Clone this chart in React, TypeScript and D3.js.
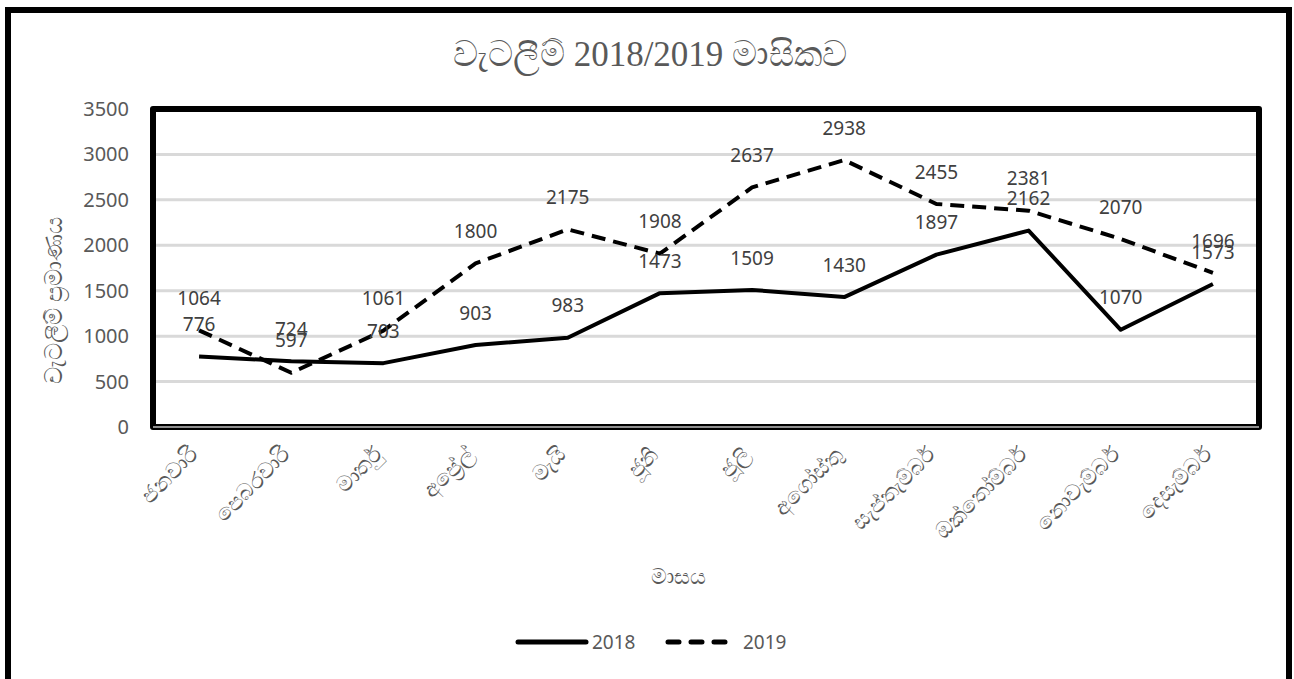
import React from "react";
import * as d3 from "d3";

const months = ["ජනවාරි", "පෙබරවාරි", "මාර්තු", "අප්‍රේල්", "මැයි", "ජූනි", "ජූලි", "අගෝස්තු", "සැප්තැම්බර්", "ඔක්තෝම්බර්", "නොවැම්බර්", "දෙසැම්බර්"];
const values2018 = [776, 724, 703, 903, 983, 1473, 1509, 1430, 1897, 2162, 1070, 1573];
const values2019 = [1064, 597, 1061, 1800, 2175, 1908, 2637, 2938, 2455, 2381, 2070, 1696];
const yTicks = [0, 500, 1000, 1500, 2000, 2500, 3000, 3500];
const seriesNames = ["2018", "2019"];
const title = "වැටලීම් 2018/2019 මාසිකව";
const yTitle = "වැටලීම් ප්‍රමාණය";
const xTitle = "මාසය";

const W = 1294, H = 679;
const L = 153, R = 1259, T = 109, B = 427;
const textColor = "#595959";
const numFont = "'Noto Sans', 'Open Sans', sans-serif";
const serif = "'Liberation Serif', 'DejaVu Serif', serif";

export default function App() {
  const x = d3.scaleBand<string>().domain(months).range([L, R]).padding(0);
  const cx = (m: string) => (x(m) as number) + x.bandwidth() / 2;
  const y = d3.scaleLinear().domain([0, 3500]).range([B, T]);
  const line = d3.line<number>().x((_, i) => cx(months[i])).y((d) => y(d));
  const series = [
    { name: seriesNames[0], values: values2018, dash: undefined as string | undefined },
    { name: seriesNames[1], values: values2019, dash: "14 8" },
  ];
  return (
    <svg width={W} height={H} style={{ position: "absolute", left: 0, top: 0 }}>
      <rect x={0} y={0} width={W} height={H} fill="white" />
      <rect x={8} y={10} width={1281} height={720} fill="white" stroke="black" strokeWidth={6} />
      <text x={650} y={66} textAnchor="middle" fontFamily={serif} fontSize={35} fill={textColor}>{title}</text>
      {yTicks.filter((t) => t > 0 && t < 3500).map((t) => (
        <line key={t} x1={L} x2={R} y1={y(t)} y2={y(t)} stroke="#d9d9d9" strokeWidth={3} />
      ))}
      <rect x={L} y={T} width={R - L} height={B - T} fill="none" stroke="black" strokeWidth={6} strokeLinejoin="round" />
      <line x1={L} x2={R} y1={B} y2={B} stroke="#bfbfbf" strokeWidth={1.5} />
      {yTicks.map((t) => (
        <text key={t} x={129} y={y(t)} dy="0.35em" textAnchor="end" fontFamily={numFont} fontSize={20} fill={textColor}>{t}</text>
      ))}
      {series.map((s) => (
        <path key={s.name} d={line(s.values) as string} fill="none" stroke="black" strokeWidth={4} strokeDasharray={s.dash} strokeLinejoin="round" />
      ))}
      {series.map((s) =>
        s.values.map((v, i) => (
          <text key={s.name + i} x={cx(months[i])} y={y(v) - 32} dy="0.35em" textAnchor="middle" fontFamily={numFont} fontSize={19} fill="#404040">{v}</text>
        ))
      )}
      {months.map((m) => (
        <text key={m} transform={`translate(${cx(m)},${456}) rotate(-45)`} textAnchor="end" fontFamily={serif} fontSize={22} fill={textColor}>{m}</text>
      ))}
      <text transform={`translate(62,300) rotate(-90)`} textAnchor="middle" fontFamily={serif} fontSize={24} fill={textColor}>{yTitle}</text>
      <text x={678} y={584} textAnchor="middle" fontFamily={serif} fontSize={22} fill={textColor}>{xTitle}</text>
      <g>
        <line x1={518} x2={586} y1={642} y2={642} stroke="black" strokeWidth={5} strokeLinecap="round" />
        <text x={592} y={642} dy="0.35em" fontFamily={numFont} fontSize={19} fill={textColor}>{seriesNames[0]}</text>
        <line x1={668} x2={730} y1={642} y2={642} stroke="black" strokeWidth={5} strokeLinecap="round" strokeDasharray="11 12" />
        <text x={743} y={642} dy="0.35em" fontFamily={numFont} fontSize={19} fill={textColor}>{seriesNames[1]}</text>
      </g>
    </svg>
  );
}
